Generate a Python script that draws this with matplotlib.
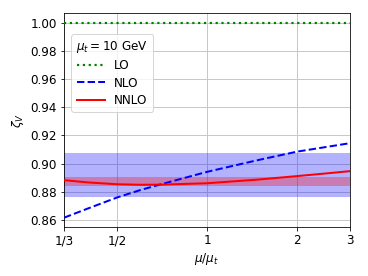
import numpy as np
from matplotlib import pyplot as plt
from matplotlib.ticker import FixedLocator, NullLocator

# scale ratio mu / mu_t and the read-off curves
mu = [1 / 3, 0.4, 0.5, 0.6, 0.7, 1.0, 1.46, 2.0, 2.5, 3.0]
zeta_lo = [1.0] * len(mu)
zeta_nlo = [0.8615, 0.8680, 0.8758, 0.8812, 0.8852, 0.8941, 0.9022,
            0.9085, 0.9118, 0.9145]
zeta_nnlo = [0.8882, 0.8866, 0.8853, 0.8849, 0.8850, 0.8860, 0.8885,
             0.8911, 0.8930, 0.8946]

# scale-variation bands
nlo_band = (0.8762, 0.9078)
nnlo_band = (0.8843, 0.8906)

xticks = [1 / 3, 0.5, 1, 2, 3]
xtick_labels = ["1/3", "1/2", "1", "2", "3"]
yticks = [0.86, 0.88, 0.90, 0.92, 0.94, 0.96, 0.98, 1.00]

plt.rcParams["font.size"] = 12

fig, ax = plt.subplots(figsize=(368 / 72, 276 / 72), dpi=72)
fig.subplots_adjust(left=0.174, right=0.951, top=0.952, bottom=0.176)

ax.set_xscale("log")
ax.grid(True, color="#c8c8c8", linewidth=1.0, zorder=0)
ax.set_axisbelow(True)

ax.fill_between([mu[0], mu[-1]], nlo_band[0], nlo_band[1],
                color="b", alpha=0.3, linewidth=0, zorder=1)
ax.fill_between([mu[0], mu[-1]], nnlo_band[0], nnlo_band[1],
                color="r", alpha=0.3, linewidth=0, zorder=1)

ax.plot(mu, zeta_lo, "g:", linewidth=2.2, label="LO", zorder=3)
ax.plot(mu, zeta_nlo, "b--", linewidth=2, label="NLO", zorder=3)
ax.plot(mu, zeta_nnlo, "r-", linewidth=2, label="NNLO", zorder=3)

ax.set_xlim(mu[0], mu[-1])
ax.xaxis.set_major_locator(FixedLocator(xticks))
ax.xaxis.set_minor_locator(NullLocator())
ax.set_xticklabels(xtick_labels)
ax.set_yticks(yticks)
ax.set_yticklabels([f"{v:.2f}" for v in yticks])

ax.set_xlabel(r"$\mu/\mu_t$")
ax.set_ylabel(r"$\zeta_V$")

ax.legend(title=r"$\mu_t = 10$ GeV", loc="upper left",
          bbox_to_anchor=(0.026, 0.901), borderaxespad=0,
          handlelength=2.3, labelspacing=0.35)

fig.savefig("out.png", dpi=72)
